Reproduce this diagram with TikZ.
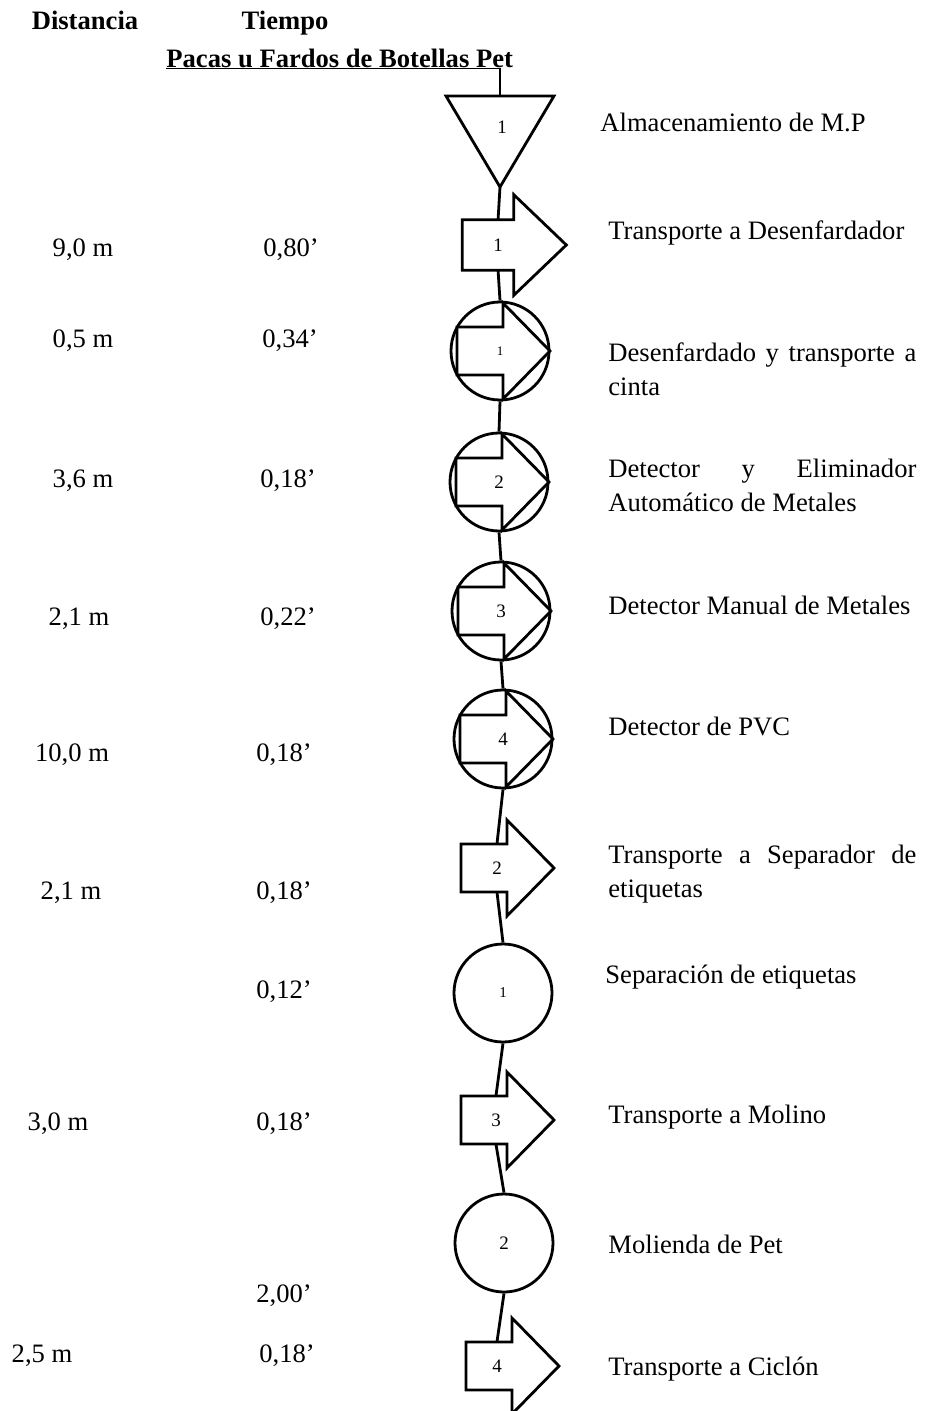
\documentclass[tikz,border=0pt]{standalone}
\usepackage{fontspec}
\setmainfont{Liberation Serif}
\usetikzlibrary{positioning}

\tolerance=10000
\hbadness=10000

\tikzset{
  sym/.style={line width=1.4pt, line join=miter},
  linea/.style={line width=1.4pt},
  fina/.style={line width=0.6pt},
  num/.style={inner sep=0pt, font=\fontsize{9.5}{11}\selectfont},
  op/.style={circle, draw, line width=1.4pt, minimum size=49pt, inner sep=0pt, font=\fontsize{9.5}{11}\selectfont},
  paso/.style={rectangle, minimum width=10pt, minimum height=24pt, inner sep=0pt, font=\fontsize{9.5}{11}\selectfont},
  head/.style={anchor=base, inner sep=0pt, font=\fontsize{13.3}{16}\selectfont\bfseries},
  desc/.style={anchor=base west, inner sep=0pt, font=\fontsize{13.3}{17}\selectfont},
  desc2/.style={desc, text width=154pt, align=justify},
  dato/.style={anchor=base, inner sep=0pt, font=\fontsize{13.3}{16}\selectfont},
  % transport arrow, #1 = where the head starts
  pics/flecha/.style={code={
    \draw[sym] ({#1-46},-24) -- (#1,-24) -- (#1,-48) -- ({#1+47},0) -- (#1,48) -- (#1,24) -- ({#1-46},24) -- cycle;
  }},
  pics/flecha/.default=10
}

\begin{document}
\begin{tikzpicture}[x=0.5pt, y=-0.5pt]
  \useasboundingbox (0,0) rectangle (935,1411);

  % Headers
  \node[head] (hdist) at (85,30) {Distancia};
  \node[head] (htiem) at (285,30) {Tiempo};
  \node[head, anchor=base west] (titulo) at (166,68) {Pacas u Fardos de Botellas Pet};

  % Storage
  \coordinate (alm-top) at (500,96);
  \coordinate (alm-pt) at (500,187);
  \draw[sym] (alm-top) ++(-54,0) -- ++(108,0) -- (alm-pt) -- cycle;
  \node[num] (alm) at (502,127) {1};

  % Steps
  \node[paso] (t1) at (498,245) {1};
  \pic[xscale=1.12, yscale=1.05] at (t1) {flecha=14};
  \node[op] (c1) at (500,351) {\fontsize{6.5}{8}\selectfont 1};
  \pic at (c1) {flecha=3};
  \node[op] (c2) at (499,482) {2};
  \pic at (c2) {flecha=3};
  \node[op] (c3) at (501,611) {3};
  \pic at (c3) {flecha=3};
  \node[op] (c4) at (503,739) {4};
  \pic at (c4) {flecha=3};
  \node[paso] (t2) at (497,868) {2};
  \pic at (t2) {flecha=10};
  \node[op] (o1) at (503,993) {\fontsize{7.5}{9}\selectfont 1};
  \node[paso] (t3) at (496,1120) {3};
  \pic at (t3) {flecha=11};
  \node[op] (o2) at (504,1243) {2};
  \node[paso] (t4) at (497,1366) {4};
  \pic at (t4) {flecha=15};

  % Connectors
  \draw[fina] (titulo.south west) -- (titulo.south west -| alm-top) -- (alm-top);
  \draw[linea] (alm-pt) -- (t1.north);
  \draw[linea] (t1.south) -- (c1.north);
  \draw[linea] (c1.south) -- (c2.north);
  \draw[linea] (c2.south) -- (c3.north);
  \draw[linea] (c3.south) -- (c4.north);
  \draw[linea] (c4.south) -- (t2.north);
  \draw[linea] (t2.south) -- (o1.north);
  \draw[linea] (o1.south) -- (t3.north);
  \draw[linea] (t3.south) -- (o2.north);
  \draw[linea] (o2.south) -- (t4.north);

  % Descriptions
  \node[desc] (d1) at (600,132) {Almacenamiento de M.P};
  \node[desc] (d2) at (608,240) {Transporte a Desenfardador};
  \node[desc2] (d3) at (608,362) {Desenfardado y transporte a\linebreak cinta};
  \node[desc2] (d4) at (608,477) {Detector y Eliminador\linebreak Automático de Metales};
  \node[desc] (d5) at (608,614) {Detector Manual de Metales};
  \node[desc] (d6) at (608,735) {Detector de PVC};
  \node[desc2] (d7) at (608,863) {Transporte a Separador de\linebreak etiquetas};
  \node[desc] (d8) at (605,983) {Separación de etiquetas};
  \node[desc] (d9) at (608,1123) {Transporte a Molino};
  \node[desc] (d10) at (608,1253) {Molienda de Pet};
  \node[desc] (d11) at (608,1375) {Transporte a Ciclón};

  % Distances and times
  \node[dato] (m1) at (83,257) {9,0 m};
  \node[dato] (s1) at (291,257) {0,80’};
  \node[dato] (m2) at (83,348) {0,5 m};
  \node[dato] (s2) at (290,348) {0,34’};
  \node[dato] (m3) at (83,487) {3,6 m};
  \node[dato] (s3) at (288,487) {0,18’};
  \node[dato] (m4) at (79,625) {2,1 m};
  \node[dato] (s4) at (288,625) {0,22’};
  \node[dato] (m5) at (72,761) {10,0 m};
  \node[dato] (s5) at (284,761) {0,18’};
  \node[dato] (m6) at (71,899) {2,1 m};
  \node[dato] (s6) at (284,899) {0,18’};
  \node[dato] (s7) at (284,998) {0,12’};
  \node[dato] (m8) at (58,1130) {3,0 m};
  \node[dato] (s8) at (284,1130) {0,18’};
  \node[dato] (s9) at (284,1302) {2,00’};
  \node[dato] (m10) at (42,1362) {2,5 m};
  \node[dato] (s10) at (287,1362) {0,18’};
\end{tikzpicture}
\end{document}
